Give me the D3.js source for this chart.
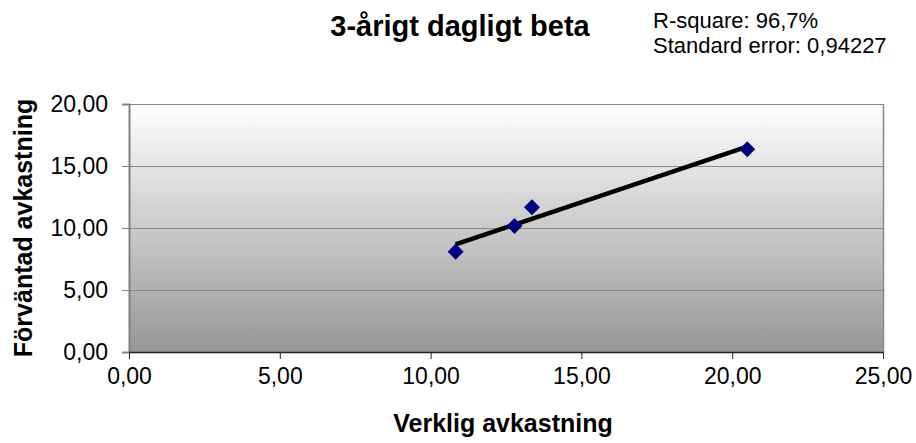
<!DOCTYPE html>
<html><head><meta charset="utf-8">
<script src="https://cdn.jsdelivr.net/npm/d3@7"></script>
<style>body{margin:0;background:#fff}svg{display:block}text{font-family:"Liberation Sans",Arial,sans-serif}</style>
</head><body>
<svg id="c" width="916" height="443"></svg>
<script>
const xValues = [10.83, 12.78, 13.36, 20.50];
const yValues = [8.09, 10.16, 11.67, 16.35];
const xTicks = [0, 5, 10, 15, 20, 25];
const yTicks = [0, 5, 10, 15, 20];
const title = "3-årigt dagligt beta";
const statsLines = ["R-square: 96,7%", "Standard error: 0,94227"];
const xTitle = "Verklig avkastning";
const yTitle = "Förväntad avkastning";

const svg = d3.select("#c");
const m = {l:129, t:104, r:883, b:352};
const x = d3.scaleLinear().domain([0,25]).range([m.l, m.r]);
const y = d3.scaleLinear().domain([0,20]).range([m.b, m.t]);
const fmt = v => d3.format(".2f")(v).replace(".", ",");

const defs = svg.append("defs");
const g = defs.append("linearGradient").attr("id","bg").attr("x1",0).attr("y1",0).attr("x2",0).attr("y2",1);
g.append("stop").attr("offset","0%").attr("stop-color","#ffffff");
g.append("stop").attr("offset","100%").attr("stop-color","#969696");

svg.append("rect").attr("x",m.l).attr("y",m.t).attr("width",m.r-m.l).attr("height",m.b-m.t).attr("fill","url(#bg)");

// gridlines
svg.append("g").selectAll("line").data(yTicks.filter(d=>d>0)).join("line")
  .attr("x1",m.l).attr("x2",m.r).attr("y1",d=>y(d)+0.5).attr("y2",d=>y(d)+0.5)
  .attr("stroke","#8a8a8a").attr("stroke-width",1);
// right border
svg.append("line").attr("x1",m.r+0.5).attr("x2",m.r+0.5).attr("y1",m.t).attr("y2",m.b).attr("stroke","#8a8a8a").attr("stroke-width",1.5);

// y axis
const ya = svg.append("g").attr("transform",`translate(${m.l},0)`)
  .call(d3.axisLeft(y).tickValues(yTicks).tickFormat(fmt).tickSize(7).tickPadding(14));
ya.select(".domain").attr("stroke","#808080").attr("stroke-width",2);
ya.selectAll(".tick line").attr("stroke","#808080");
ya.selectAll("text").attr("font-size",23).attr("fill","#000").attr("font-family","Liberation Sans, Arial, sans-serif");

// x axis
const xa = svg.append("g").attr("transform",`translate(0,${m.b})`)
  .call(d3.axisBottom(x).tickValues(xTicks).tickFormat(fmt).tickSize(7).tickSizeOuter(0).tickPadding(9));
xa.select(".domain").attr("stroke","#222").attr("stroke-width",1.5);
xa.selectAll(".tick line").attr("stroke","#222");
xa.selectAll("text").attr("font-size",23).attr("fill","#000").attr("font-family","Liberation Sans, Arial, sans-serif");

// regression trend line
const n = xValues.length;
const mx = d3.mean(xValues), my = d3.mean(yValues);
let sxy=0, sxx=0;
for (let i=0;i<n;i++){ sxy+=(xValues[i]-mx)*(yValues[i]-my); sxx+=(xValues[i]-mx)**2; }
const slope = sxy/sxx, icpt = my - slope*mx;
const x0 = d3.min(xValues), x1 = d3.max(xValues);
svg.append("line").attr("x1",x(x0)).attr("y1",y(icpt+slope*x0)).attr("x2",x(x1)).attr("y2",y(icpt+slope*x1))
  .attr("stroke","#000").attr("stroke-width",4.5);

// points
svg.append("g").selectAll("path").data(xValues.map((v,i)=>[v,yValues[i]])).join("path")
  .attr("d", d3.symbol(d3.symbolSquare, 128))
  .attr("transform", d=>`translate(${x(d[0])},${y(d[1])}) rotate(45)`)
  .attr("fill","#000080");

// texts
svg.append("text").attr("x",460).attr("y",36).attr("text-anchor","middle").attr("font-size",29).attr("font-weight","bold").text(title);
svg.append("text").attr("x",653).attr("y",28).attr("font-size",22).text(statsLines[0]);
svg.append("text").attr("x",653).attr("y",53).attr("font-size",22).text(statsLines[1]);
svg.append("text").attr("x",503).attr("y",432).attr("text-anchor","middle").attr("font-size",25).attr("font-weight","bold").text(xTitle);
svg.append("text").attr("transform","translate(32,228) rotate(-90)").attr("text-anchor","middle").attr("font-size",25).attr("font-weight","bold").text(yTitle);
</script>
</body></html>
